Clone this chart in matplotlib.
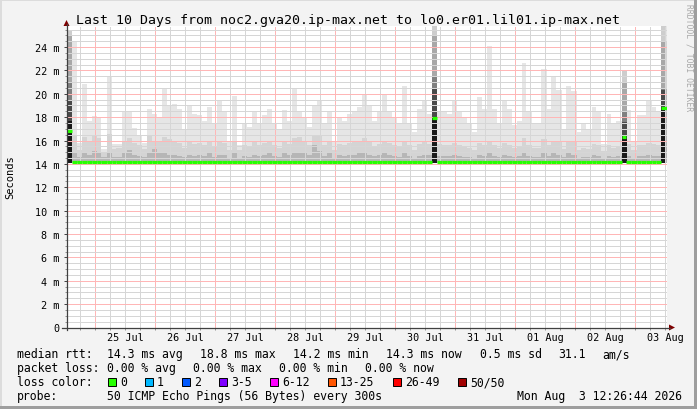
import matplotlib
matplotlib.use("Agg")
import matplotlib.pyplot as plt
from matplotlib.patches import Rectangle, Polygon
from matplotlib.lines import Line2D
import matplotlib.transforms as mtransforms
import numpy as np

# ---------------- data ----------------
title = "Last 10 Days from noc2.gva20.ip-max.net to lo0.er01.lil01.ip-max.net"
x_tick_labels = ["25 Jul", "26 Jul", "27 Jul", "28 Jul", "29 Jul",
                 "30 Jul", "31 Jul", "01 Aug", "02 Aug", "03 Aug"]
x_tick_days = [1.5, 2.5, 3.5, 4.5, 5.5, 6.5, 7.5, 8.5, 9.5, 10.5]  # noon, days since 24 Jul 00:00
y_ticks_ms = [0, 2, 4, 6, 8, 10, 12, 14, 16, 18, 20, 22, 24]
y_tick_labels = ["0", "2 m", "4 m", "6 m", "8 m", "10 m", "12 m", "14 m",
                 "16 m", "18 m", "20 m", "22 m", "24 m"]
start_day = 0.5186      # 24 Jul 12:26:44
span_days = 10
bin_days = 1 / 12       # 2 hour bins
y_max_ms = 25.8

median_ms = [
    16.8, 14.2, 14.2, 14.2, 14.2, 14.2, 14.2, 14.2, 14.2, 14.2, 14.2, 14.2,
    14.2, 14.2, 14.2, 14.2, 14.2, 14.2, 14.2, 14.2, 14.2, 14.2, 14.2, 14.2,
    14.2, 14.2, 14.2, 14.2, 14.2, 14.2, 14.2, 14.2, 14.2, 14.2, 14.2, 14.2,
    14.2, 14.2, 14.2, 14.2, 14.2, 14.2, 14.2, 14.2, 14.2, 14.2, 14.2, 14.2,
    14.2, 14.2, 14.2, 14.2, 14.2, 14.2, 14.2, 14.2, 14.2, 14.2, 14.2, 14.2,
    14.2, 14.2, 14.2, 14.2, 14.2, 14.2, 14.2, 14.2, 14.2, 14.2, 14.2, 14.2,
    14.2, 17.9, 14.2, 14.2, 14.2, 14.2, 14.2, 14.2, 14.2, 14.2, 14.2, 14.2,
    14.2, 14.2, 14.2, 14.2, 14.2, 14.2, 14.2, 14.2, 14.2, 14.2, 14.2, 14.2,
    14.2, 14.2, 14.2, 14.2, 14.2, 14.2, 14.2, 14.2, 14.2, 14.2, 14.2, 14.2,
    14.2, 14.2, 14.2, 16.3, 14.2, 14.2, 14.2, 14.2, 14.2, 14.2, 14.2, 18.8,
]
smoke_max = [
    25.5, 24.5, 15.8, 20.8, 17.7, 18.1, 18.0, 15.3, 21.5, 15.7, 15.7, 18.5,
    18.4, 17.1, 16.5, 15.8, 18.7, 18.3, 18.0, 20.5, 19.0, 19.1, 18.7, 17.0,
    19.0, 18.3, 18.2, 17.7, 18.9, 17.5, 19.5, 18.4, 16.0, 19.8, 15.6, 17.4,
    17.2, 18.4, 17.5, 18.2, 18.7, 17.5, 17.0, 18.6, 17.7, 20.4, 18.5, 18.0,
    17.2, 19.0, 19.5, 17.5, 18.5, 16.0, 18.0, 17.7, 18.3, 18.4, 18.9, 20.0,
    19.0, 17.7, 18.4, 20.0, 18.4, 18.0, 17.5, 20.7, 17.5, 16.7, 18.7, 19.5,
    18.3, 25.8, 18.4, 18.4, 18.3, 19.5, 18.4, 18.0, 17.5, 16.7, 19.7, 18.7,
    24.1, 18.7, 17.5, 19.4, 18.7, 17.3, 17.7, 22.6, 18.4, 17.5, 17.4, 22.1,
    18.7, 21.5, 20.3, 16.9, 20.7, 20.2, 16.7, 17.4, 16.9, 18.9, 18.4, 15.7,
    18.3, 17.4, 17.7, 22.0, 18.6, 15.9, 18.2, 18.2, 19.4, 18.9, 18.5, 25.8,
]
smoke_hi = [
    25.0, 16.5, 15.2, 16.3, 16.0, 16.4, 16.2, 15.0, 16.6, 15.3, 15.4, 16.0,
    16.2, 15.8, 15.6, 15.3, 16.4, 16.0, 15.9, 16.3, 16.1, 16.0, 15.8, 15.4,
    15.9, 15.7, 15.8, 15.6, 16.0, 15.5, 15.9, 15.8, 15.2, 16.0, 15.2, 15.6,
    15.5, 15.9, 15.6, 15.8, 16.0, 15.6, 15.4, 15.9, 15.7, 16.2, 16.3, 16.0,
    15.6, 16.4, 16.5, 15.6, 16.0, 15.2, 15.7, 15.6, 15.8, 15.9, 16.0, 16.2,
    15.9, 15.5, 15.7, 16.0, 15.8, 15.6, 15.5, 16.0, 15.6, 15.2, 15.7, 15.9,
    15.7, 25.0, 15.7, 15.6, 15.6, 15.8, 15.6, 15.5, 15.4, 15.2, 15.8, 15.6,
    16.0, 15.6, 15.4, 15.8, 15.6, 15.4, 15.5, 16.2, 15.6, 15.4, 15.4, 16.1,
    15.6, 16.0, 15.9, 15.3, 16.0, 15.9, 15.2, 15.4, 15.3, 15.7, 15.6, 15.1,
    15.6, 15.4, 15.5, 21.0, 15.7, 15.2, 15.6, 15.6, 15.8, 15.7, 15.6, 24.5,
]
smoke_lo = [
    21.0, 15.0, 14.6, 14.9, 14.8, 15.1, 15.0, 14.6, 15.0, 14.6, 14.6, 14.9,
    15.2, 14.8, 14.7, 14.6, 15.0, 15.3, 14.9, 14.9, 14.8, 14.8, 14.7, 14.6,
    14.8, 14.7, 14.8, 14.7, 14.9, 14.6, 14.8, 14.8, 14.5, 14.9, 14.5, 14.7,
    14.6, 14.8, 14.7, 14.8, 14.9, 14.7, 14.6, 14.9, 14.8, 15.0, 15.0, 14.9,
    14.8, 15.6, 15.1, 14.7, 14.9, 14.5, 14.8, 14.7, 14.8, 14.8, 14.9, 15.0,
    14.8, 14.7, 14.8, 14.9, 14.8, 14.7, 14.6, 14.9, 14.7, 14.5, 14.7, 14.8,
    14.8, 21.5, 14.7, 14.7, 14.7, 14.8, 14.7, 14.6, 14.6, 14.5, 14.8, 14.7,
    14.9, 14.7, 14.6, 14.8, 14.7, 14.6, 14.7, 15.0, 14.7, 14.6, 14.6, 14.9,
    14.7, 14.9, 14.8, 14.6, 14.9, 14.8, 14.5, 14.6, 14.6, 14.8, 14.7, 14.5,
    14.7, 14.6, 14.7, 18.5, 14.7, 14.5, 14.7, 14.7, 14.8, 14.7, 14.7, 20.5,
]
smoke_min = 14.1
spike_bins = [0, 73, 111, 119]
spike_dark = [19.5, 20.5, 17.6, 20.3]
spike_core = [17.7, 18.0, 16.4, 18.9]

legend_rows = [
    [("median rtt:", 16.7), ("14.3 ms avg", 107), ("18.8 ms max", 200),
     ("14.2 ms min", 293), ("14.3 ms now", 386), ("0.5 ms sd", 480),
     ("31.1", 558), ("am/s", 602)],
    [("packet loss:", 16.7), ("0.00 % avg", 107), ("0.00 % max", 193),
     ("0.00 % min", 279), ("0.00 % now", 365)],
    [("loss color:", 16.7)],
    [("probe:", 16.7), ("50 ICMP Echo Pings (56 Bytes) every 300s", 107)],
]
legend_baselines = [358.5, 372.5, 386.5, 400.5]
loss_labels = ["0", "1", "2", "3-5", "6-12", "13-25", "26-49", "50/50"]
loss_colors = ["#26ff00", "#00b8ff", "#0059ff", "#7e00ff", "#ff00ff",
               "#ff5500", "#ff0000", "#a10000"]
loss_box_x = [108, 145, 182, 219, 270, 328, 393, 458]
timestamp = "Mon Aug  3 12:26:44 2026"

# ---------------- figure ----------------
W, H = 697, 410
MONO = "DejaVu Sans Mono"
fig = plt.figure(figsize=(W / 100, H / 100), dpi=100)
fig.patch.set_facecolor("#f3f3f3")

L, R, T, B = 66.5, 666.5, 27, 328.5
ax = fig.add_axes([L / W, 1 - B / H, (R - L) / W, (B - T) / H])
ax.set_facecolor("white")
ax.set_xlim(start_day, start_day + span_days)
ax.set_ylim(0, y_max_ms)
for s in ax.spines.values():
    s.set_visible(False)

edges = start_day + np.arange(len(smoke_max) + 1) * bin_days
ax.stairs(smoke_max, edges, baseline=smoke_min, fill=True, color="#e6e6e6", lw=0, zorder=1)
ax.stairs(smoke_hi, edges, baseline=smoke_min, fill=True, color="#d4d4d4", lw=0, zorder=2)
ax.stairs(smoke_lo, edges, baseline=smoke_min, fill=True, color="#b6b6b6", lw=0, zorder=3)

# spike columns: dense smoke, darker shades
sp_left = [edges[b] for b in spike_bins]
sp_layers = [
    ([smoke_max[b] for b in spike_bins], "#cdcdcd"),
    ([smoke_hi[b] for b in spike_bins], "#a8a8a8"),
    ([smoke_lo[b] for b in spike_bins], "#808080"),
    (spike_dark, "#4a4a4a"),
    (spike_core, "#1a1a1a"),
]
for k, (vals, col) in enumerate(sp_layers):
    ax.bar(sp_left, np.array(vals) - smoke_min, width=bin_days, bottom=smoke_min,
           align="edge", color=col, lw=0, zorder=3.5 + 0.01 * k)

# grid (1px dotted, not antialiased)
dot = (0, (1, 1))
minor_c = "#d6d6d6"
major_c = "#ffb6b6"
d = np.ceil(start_day * 4) / 4
while d < start_day + span_days:
    if abs(d - round(d)) < 1e-6:
        ax.axvline(d, color=major_c, lw=0.72, ls=dot, zorder=4, antialiased=False)
    else:
        ax.axvline(d, color=minor_c, lw=0.72, ls=dot, zorder=4, antialiased=False)
    d += 0.25
v = 0.5
while v < y_max_ms:
    if abs(v / 2 - round(v / 2)) < 1e-6:
        ax.axhline(v, color=major_c, lw=0.72, ls=dot, zorder=4, antialiased=False)
    else:
        ax.axhline(v, color=minor_c, lw=0.72, ls=dot, zorder=4, antialiased=False)
    v += 0.5

# median line
ax.hlines(median_ms, edges[:-1], edges[1:], colors="#26ff00", lw=2.3, zorder=6)

# ticks
ax.set_yticks(y_ticks_ms)
ax.set_yticklabels(y_tick_labels, family=MONO, fontsize=7.3)
ax.set_yticks(np.arange(0.5, y_max_ms, 0.5), minor=True)
ax.tick_params(axis="y", which="major", direction="out", length=2.2, width=0.7,
               color="#404040", pad=3.0)
ax.tick_params(axis="y", which="minor", direction="out", length=1.2, width=0.7, color="#909090")
xt = np.arange(np.ceil(start_day * 4) / 4, start_day + span_days, 0.25)
ax.set_xticks(xt, minor=True)
ax.set_xticks([])
ax.tick_params(axis="x", which="minor", direction="out", length=1.5, width=0.7, color="#909090")

# overlay in pixel coordinates
ov = fig.add_axes([0, 0, 1, 1], zorder=5)
ov.set_xlim(0, W)
ov.set_ylim(H, 0)
ov.axis("off")
ov.patch.set_alpha(0)

blend = mtransforms.blended_transform_factory(ax.transData, ov.transData)
for lab, dd in zip(x_tick_labels, x_tick_days):
    ov.text(dd, 341.5, lab, transform=blend, ha="center", va="baseline",
            family=MONO, fontsize=7.3, color="black")

# axes lines and arrows
ov.add_line(Line2D([L, L], [331, 25], color="#404040", lw=0.9))
ov.add_line(Line2D([62, 670], [B, B], color="#404040", lw=0.9))
ov.add_patch(Polygon([[L - 3, 27], [L + 3, 27], [L, 21]], closed=True, color="#7f0000", lw=0))
ov.add_patch(Polygon([[669, B - 3], [669, B + 3], [675, B]], closed=True, color="#7f0000", lw=0))

# frame shading
ov.add_patch(Rectangle((0, 0), W, 2, color="#dcdcdc", lw=0))
ov.add_patch(Rectangle((0, 0), 2, H, color="#dcdcdc", lw=0))
ov.add_patch(Rectangle((0, H - 3), W, 3, color="#9e9e9e", lw=0))
ov.add_patch(Rectangle((W - 3, 0), 3, H, color="#9e9e9e", lw=0))

# texts
ov.text(348, 24, title, ha="center", va="baseline", family=MONO, fontsize=9.55, color="black")
ov.text(10, 177.5, "Seconds", ha="center", va="center", rotation=90,
        family=MONO, fontsize=7.5, color="black")
ov.text(689, 58, "RRDTOOL / TOBI OETIKER", ha="center", va="center", rotation=270,
        family=MONO, fontsize=5.8, color="#a8a8a8")

for row, yb in zip(legend_rows, legend_baselines):
    for txt, x in row:
        ov.text(x, yb, txt, ha="left", va="baseline", family=MONO, fontsize=8.3, color="black")
for lab, col, x in zip(loss_labels, loss_colors, loss_box_x):
    ov.add_patch(Rectangle((x, 378.5), 8, 8, facecolor=col, edgecolor="black", lw=0.7))
    ov.text(x + 12, legend_baselines[2], lab, ha="left", va="baseline",
            family=MONO, fontsize=8.3, color="black")
ov.text(682, legend_baselines[3], timestamp, ha="right", va="baseline",
        family=MONO, fontsize=8.3, color="black")

fig.savefig("out.png", dpi=100, facecolor=fig.get_facecolor())
